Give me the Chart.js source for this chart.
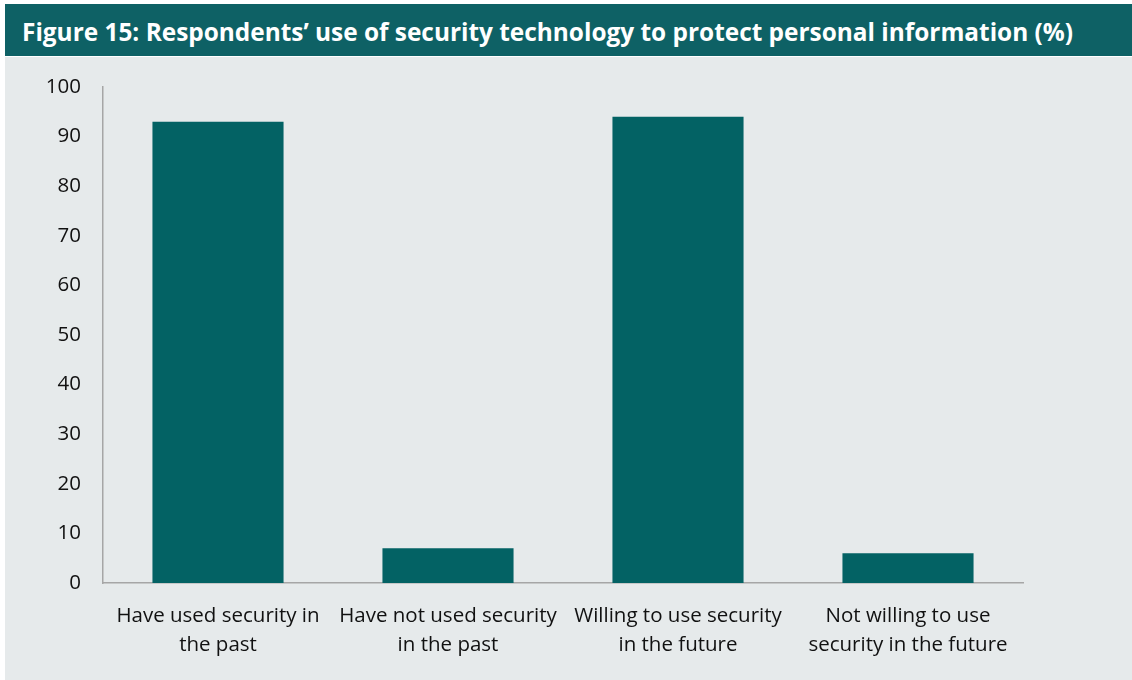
<!DOCTYPE html>
<html>
<head>
<meta charset="utf-8">
<script src="https://cdn.jsdelivr.net/npm/chart.js@4/dist/chart.umd.min.js"></script>
<style>
    body { margin: 0; background: #ffffff; width: 1132px; height: 680px; position: relative; overflow: hidden; }
    #banner {
        position: absolute; left: 5px; top: 4px; width: 1127px; height: 52px;
        background: #0e6165; color: #ffffff;
        font-family: "Open Sans", sans-serif; font-weight: bold; font-size: 24.4px;
        line-height: 56px; padding-left: 17px; box-sizing: border-box; white-space: nowrap;
    }
    #panel { position: absolute; left: 5px; top: 57px; width: 1127px; height: 623px; background: #e6eaeb; }
</style>
</head>
<body>
<div id="banner">Figure 15: Respondents’ use of security technology to protect personal information (%)</div>
<div id="panel"><canvas id="chart" width="1127" height="623"></canvas></div>
<script>
const categories = [
    ['Have used security in', 'the past'],
    ['Have not used security', 'in the past'],
    ['Willing to use security', 'in the future'],
    ['Not willing to use', 'security in the future']
];
const shares = [93, 7, 94, 6];
const yTicks = [0, 10, 20, 30, 40, 50, 60, 70, 80, 90, 100];

new Chart(document.getElementById('chart'), {
    type: 'bar',
    data: {
        labels: categories,
        datasets: [{
            data: shares,
            backgroundColor: '#036264',
            categoryPercentage: 0.57,
            barPercentage: 1
        }]
    },
    options: {
        responsive: false,
        animation: false,
        layout: { padding: { top: 30, right: 109, left: 0, bottom: 0 } },
        plugins: {
            legend: { display: false },
            tooltip: { enabled: false }
        },
        scales: {
            x: {
                grid: { display: false, drawTicks: false },
                border: { color: '#a6a6a6', width: 1.5 },
                ticks: {
                    color: '#111111',
                    font: { family: '"Open Sans", sans-serif', size: 20.5, lineHeight: 1.4 },
                    padding: 19,
                    maxRotation: 0
                },
                afterFit: scale => { scale.height = 97; }
            },
            y: {
                min: 0,
                max: 100,
                grid: { display: false, drawTicks: false },
                border: { color: '#a6a6a6', width: 1.5 },
                afterBuildTicks: scale => { scale.ticks = yTicks.map(v => ({ value: v })); },
                ticks: { color: '#111111', font: { family: '"Open Sans", sans-serif', size: 20.5 }, padding: 22 },
                afterFit: scale => {
                    scale.width = 98;
                    // keep the tick padding from pushing the plot area down
                    scale.paddingTop = 0;
                    scale.paddingBottom = 0;
                }
            }
        }
    }
});
</script>
</body>
</html>
